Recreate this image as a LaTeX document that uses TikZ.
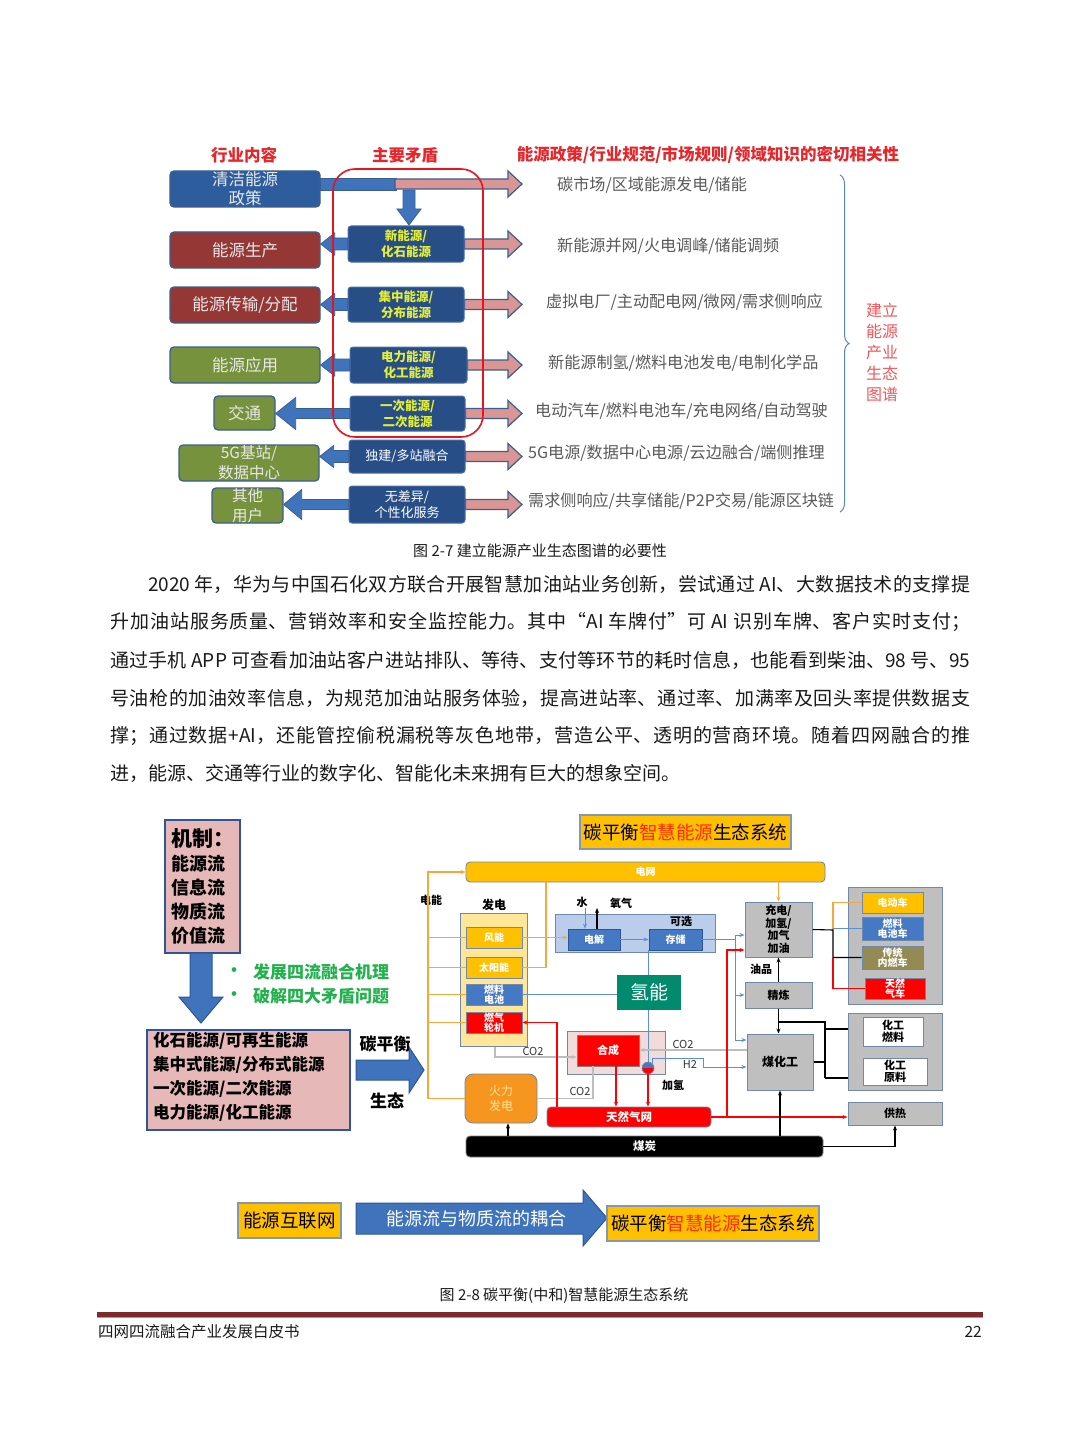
\documentclass[tikz,border=0pt]{standalone}
\usepackage{fontspec}
\setmainfont{Noto Sans CJK SC}
\usetikzlibrary{calc,arrows.meta,decorations.pathreplacing}
\XeTeXlinebreaklocale "zh"
\XeTeXlinebreakskip=0pt plus 3pt
\newcommand\fsz[2]{\fontsize{#1pt}{#2pt}\selectfont}
\newcommand\jline[2]{\parbox{#1}{\parfillskip=0pt\relax #2}}
\newcommand\BX[7]{\node[#2, minimum width={(#5-#3)*1pt}, minimum height={(#6-#4)*1pt}, inner sep=0pt] (#1) at ({(#3+#5)/2},{(#4+#6)/2}) {#7};}
\newcommand\LArr[6]{\draw[#6] let \p1=(#1), \p2=(#2) in (\x1,\y1+#3) -- (\x2+#5,\y1+#3) -- (\x2+#5,\y1+#4) -- (\x2,\y1) -- (\x2+#5,\y1-#4) -- (\x2+#5,\y1-#3) -- (\x1,\y1-#3) -- cycle;}
\newcommand\RArr[6]{\draw[#6] let \p1=(#1), \p2=(#2) in (\x1,\y1+#3) -- (\x2-#5,\y1+#3) -- (\x2-#5,\y1+#4) -- (\x2,\y1) -- (\x2-#5,\y1-#4) -- (\x2-#5,\y1-#3) -- (\x1,\y1-#3) -- cycle;}
\pgfdeclarelayer{bgzero}\pgfdeclarelayer{back}\pgfsetlayers{bgzero,back,main}
\definecolor{cblue}{HTML}{2E5D9E}
\definecolor{cred}{HTML}{953735}
\definecolor{cgreen}{HTML}{76923C}
\definecolor{cnavy}{HTML}{284E88}
\definecolor{cmidb}{HTML}{4A6FA8}
\definecolor{cyel}{HTML}{E2EE3A}
\definecolor{cpink}{HTML}{D99694}
\definecolor{carrow}{HTML}{3F74BC}
\definecolor{cborder}{HTML}{3A5F8F}
\definecolor{cgtext}{HTML}{595959}
\definecolor{chead}{HTML}{E5262B}
\definecolor{cbrace}{HTML}{5B87C5}
\definecolor{cvert}{HTML}{F0575A}
\definecolor{ltext}{HTML}{E8E8E8}
\definecolor{bpink}{HTML}{E6B9B8}
\definecolor{bborder}{HTML}{2F5597}
\definecolor{bgreen}{HTML}{22B14C}
\definecolor{byel}{HTML}{FFC000}
\definecolor{bred}{HTML}{FF0000}
\definecolor{borange}{HTML}{F5A93C}
\definecolor{blblue}{HTML}{BACDEA}
\definecolor{bbox}{HTML}{4679C4}
\definecolor{bteal}{HTML}{008B6C}
\definecolor{bgrey}{HTML}{BFBFBF}
\definecolor{bolive}{HTML}{948A54}
\definecolor{bpale}{HTML}{FFE699}
\definecolor{bpinkl}{HTML}{F2DCDB}
\definecolor{bblu}{HTML}{5C8FD8}
\definecolor{bgreyl}{HTML}{BDBDBD}
\definecolor{bfire}{HTML}{F7961E}
\definecolor{sbord}{HTML}{7088AA}
\definecolor{footred}{HTML}{7E2A2A}
\definecolor{ttext}{HTML}{1A1A1A}
\definecolor{sred}{HTML}{E8141B}
\definecolor{titred}{HTML}{FF2A00}
\definecolor{tpt}{HTML}{FFE39A}
\definecolor{tbord}{HTML}{8497B0}
\tikzset{
 hdr/.style={text=chead, font=\fsz{16.5}{18}\bfseries, inner sep=0pt},
 lbox/.style={rounded corners=4pt, draw=cborder, line width=1.3pt, text=ltext, align=center, font=\fsz{16.5}{19}},
 mbox/.style={rounded corners=3pt, draw=cmidb, line width=1pt, fill=cnavy, text=cyel, align=center, font=\fsz{12.5}{16}\bfseries},
 barrow/.style={fill=carrow, draw=cborder, line width=0.8pt},
 parrow/.style={fill=cpink, draw=cborder, line width=1.2pt},
 rtext/.style={anchor=west, inner sep=0pt, text=cgtext, font=\fsz{16.1}{18}},
 ptext/.style={anchor=west, inner sep=0pt, text=ttext, font=\fsz{19}{22}},
 captxt/.style={inner sep=0pt, text=ttext, font=\fsz{15}{17}},
 tbox/.style={fill=byel, draw=tbord, line width=1.5pt, text=black, font=\fsz{18.5}{20}},
 pbox/.style={fill=bpink, draw=bborder, line width=1.5pt, text=black},
 barrowb/.style={fill=carrow, draw=bborder, line width=1pt},
 bul/.style={text=bgreen, font=\fsz{17}{18}\bfseries, inner sep=0pt},
 sbox/.style={draw=sbord, line width=0.9pt, text=white, align=center, font=\fsz{10}{10.5}\bfseries},
 gbox/.style={fill=bgrey, draw=sbord, line width=1pt, text=black, align=center, font=\fsz{11}{12.5}\bfseries},
 grp/.style={draw=sbord, line width=1pt},
 lab/.style={inner sep=0pt, text=black, font=\fsz{11}{12}\bfseries},
 clab/.style={inner sep=0pt, text=black!80, font=\fsz{11}{12}},
 oline/.style={draw=borange, line width=1.1pt},
 bline/.style={draw=bblu, line width=1pt},
 kline/.style={draw=black, line width=1.1pt},
 rline/.style={draw=bred, line width=1.1pt},
 gline/.style={draw=bgreyl, line width=1.1pt},
 tip/.style={-{Stealth[length=5pt,width=4pt]}}
}
\begin{document}
\begin{tikzpicture}[x=1pt,y=-1pt]
\begin{pgfonlayer}{bgzero}
\useasboundingbox[fill=white] (0,0) rectangle (1080,1455);
\end{pgfonlayer}

% ================= Figure 2-7 =================
\node[hdr] (h1) at (244,155) {行业内容};
\node[hdr] (h2) at (405,155) {主要矛盾};
\node[hdr] (h3) at (708,155) {能源政策/行业规范/市场规则/领域知识的密切相关性};

\BX{L0}{lbox,fill=cblue}{170}{171}{320}{207}{清洁能源\\政策}
\BX{L1}{lbox,fill=cred}{170}{232}{320}{268}{能源生产}
\BX{L2}{lbox,fill=cred}{170}{287}{320}{323}{能源传输/分配}
\BX{L3}{lbox,fill=cgreen}{170}{347}{320}{383}{能源应用}
\BX{L4}{lbox,fill=cgreen}{214}{396}{275}{430}{交通}
\BX{L5}{lbox,fill=cgreen,font=\fsz{15.5}{20}}{179}{445}{319}{481}{5G基站/\\数据中心}
\BX{L6}{lbox,fill=cgreen,font=\fsz{15.5}{20}}{212}{488}{283}{523}{其他\\用户}

\BX{M1}{mbox}{348}{226}{464}{262}{新能源/\\化石能源}
\BX{M2}{mbox}{348}{287}{464}{322}{集中能源/\\分布能源}
\BX{M3}{mbox}{350}{347}{467}{383}{电力能源/\\化工能源}
\BX{M4}{mbox}{350}{396}{465}{431}{一次能源/\\二次能源}
\BX{M5}{mbox,text=white,font=\fsz{13}{15}}{349}{440}{465}{473}{独建/多站融合}
\BX{M6}{mbox,text=white,font=\fsz{13}{16}}{349}{486}{465}{523}{无差异/\\个性化服务}

\coordinate (P0) at (395,184);
\coordinate (R0) at (522,184);
\coordinate (R1) at (522,244);
\coordinate (R2) at (522,304.5);
\coordinate (R3) at (522,365);
\coordinate (R4) at (522,413.5);
\coordinate (R5) at (522,456.5);
\coordinate (R6) at (522,504.5);

\begin{pgfonlayer}{back}
\draw[barrow] (320,178) rectangle (396,190);
\RArr{P0}{R0}{5pt}{13pt}{14pt}{parrow}
\draw[barrow] (403,190) -- (415,190) -- (415,209) -- (421,209) -- (409,225) -- (397,209) -- (403,209) -- cycle;
\RArr{M1.east}{R1}{5pt}{13pt}{14pt}{parrow}
\RArr{M2.east}{R2}{5pt}{13pt}{14pt}{parrow}
\RArr{M3.east}{R3}{5pt}{13pt}{14pt}{parrow}
\RArr{M4.east}{R4}{5pt}{13pt}{14pt}{parrow}
\RArr{M5.east}{R5}{5pt}{13pt}{14pt}{parrow}
\RArr{M6.east}{R6}{5pt}{13pt}{14pt}{parrow}
\LArr{M1.west}{L1.east}{6pt}{11pt}{14pt}{barrow}
\LArr{M2.west}{L2.east}{6pt}{11pt}{14pt}{barrow}
\LArr{M3.west}{L3.east}{6pt}{11pt}{14pt}{barrow}
\LArr{M4.west}{L4.east}{5pt}{16pt}{20pt}{barrow}
\LArr{M5.west}{L5.east}{6pt}{11pt}{14pt}{barrow}
\LArr{M6.west}{L6.east}{5pt}{15pt}{18pt}{barrow}
\end{pgfonlayer}

\draw[sred, line width=1.6pt, rounded corners=22pt] (333,169) rectangle (483,437);

\node[rtext] (T0) at (557,185) {碳市场/区域能源发电/储能};
\node[rtext] (T1) at (557,246) {新能源并网/火电调峰/储能调频};
\node[rtext] (T2) at (546,302) {虚拟电厂/主动配电网/微网/需求侧响应};
\node[rtext] (T3) at (548,363) {新能源制氢/燃料电池发电/电制化学品};
\node[rtext] (T4) at (535,411) {电动汽车/燃料电池车/充电网络/自动驾驶};
\node[rtext] (T5) at (528,453) {5G电源/数据中心电源/云边融合/端侧推理};
\node[rtext] (T6) at (528,501) {需求侧响应/共享储能/P2P交易/能源区块链};

\draw[cbrace, line width=1pt, decorate, decoration={brace, amplitude=9pt}] (840,175) -- (840,512);
\node[text=cvert, font=\fsz{16}{21}, align=center, inner sep=0pt] (VT) at (882,352) {建立\\能源\\产业\\生态\\图谱};

\node[captxt] (cap1) at (540,551) {图 2-7 建立能源产业生态图谱的必要性};

% ================= Paragraph =================
\node[ptext] (p1) at (148,584) {\jline{822pt}{2020 年，华为与中国石化双方联合开展智慧加油站业务创新，尝试通过 AI、大数据技术的支撑提}};
\node[ptext] (p2) at (110,622) {\jline{860pt}{升加油站服务质量、营销效率和安全监控能力。其中“AI 车牌付”可 AI 识别车牌、客户实时支付；}};
\node[ptext] (p3) at (110,660) {\jline{860pt}{通过手机 APP 可查看加油站客户进站排队、等待、支付等环节的耗时信息，也能看到柴油、98 号、95}};
\node[ptext] (p4) at (110,698) {\jline{860pt}{号油枪的加油效率信息，为规范加油站服务体验，提高进站率、通过率、加满率及回头率提供数据支}};
\node[ptext] (p5) at (110,736) {\jline{860pt}{撑；通过数据+AI，还能管控偷税漏税等灰色地带，营造公平、透明的营商环境。随着四网融合的推}};
\node[ptext] (p6) at (110,773) {进，能源、交通等行业的数字化、智能化未来拥有巨大的想象空间。};

% ================= Figure 2-8 left part =================
\BX{MJ}{pbox,align=left,font=\fsz{18}{24}\bfseries}{165}{820}{240}{953}{{\fsz{21}{24}\bfseries 机制：}\\能源流\\信息流\\物质流\\价值流}
\draw[barrowb] (190,953) -- (212,953) -- (212,997) -- (223,997) -- (201,1023) -- (179,997) -- (190,997) -- cycle;
\node[bul] (bu1) at (234,972) {•};
\node[bul,anchor=west] (B1) at (253,972) {发展四流融合机理};
\node[bul] (bu2) at (234,996) {•};
\node[bul,anchor=west] (B2) at (253,996) {破解四大矛盾问题};
\BX{FS}{pbox}{147}{1030}{350}{1130}{}
\node[anchor=west, align=left, font=\fsz{16.5}{24}\bfseries, inner sep=0pt, text=black] (FT) at (153,1077) {化石能源/可再生能源\\集中式能源/分布式能源\\一次能源/二次能源\\电力能源/化工能源};
\draw[barrowb] (356,1060) -- (409,1060) -- (409,1047) -- (424,1070) -- (409,1093) -- (409,1080) -- (356,1080) -- cycle;
\node[inner sep=0pt, font=\fsz{17}{18}\bfseries] (tph) at (385,1044) {碳平衡};
\node[inner sep=0pt, font=\fsz{17}{18}\bfseries] (sta) at (387,1101) {生态};

\BX{TT}{tbox}{580}{815}{791}{849}{碳平衡\textcolor{titred}{智慧能源}生态系统}

% ================= Figure 2-8 system diagram =================
\BX{G}{sbox,fill=byel,rounded corners=4pt}{466}{862}{825}{882}{电网}
\BX{F}{grp,fill=bpale}{460}{913}{527}{1046}{}
\BX{W}{sbox,fill=byel}{466}{927}{522}{948}{风能}
\BX{S}{sbox,fill=byel}{466}{957}{522}{978}{太阳能}
\BX{FC}{sbox,fill=bbox}{466}{984}{522}{1005}{燃料\\电池}
\BX{GT}{sbox,fill=bred}{466}{1012}{522}{1033}{燃气\\轮机}
\BX{Opt}{grp,fill=blblue}{555}{914}{715}{952}{}
\BX{E}{sbox,fill=bbox,draw=bborder}{568}{929}{620}{950}{电解}
\BX{St}{sbox,fill=bbox,draw=bborder}{649}{929}{702}{950}{存储}
\BX{H}{fill=bteal,text=white,font=\fsz{19}{20}}{617}{975}{681}{1010}{氢能}
\BX{Syn}{grp,fill=bpinkl}{567}{1031}{665}{1074}{}
\BX{SY}{sbox,fill=bred,draw=gray,font=\fsz{11}{12}\bfseries}{577}{1035}{639}{1066}{合成}
\node[circle, minimum size=12pt, inner sep=0pt] (C) at (648,1068) {};
\fill[bbox] ($(C.center)+(-6,0)$) arc[start angle=180, end angle=0, radius=6pt] -- cycle;
\fill[bred] ($(C.center)+(-6,0)$) arc[start angle=180, end angle=360, radius=6pt] -- cycle;
\draw[sbord, line width=0.6pt] (C.center) circle (6pt);
\BX{TP}{sbox,fill=bfire,rounded corners=8pt,text=tpt,font=\fsz{12}{15}}{465}{1074}{537}{1123}{火力\\发电}
\BX{NG}{sbox,fill=bred,rounded corners=4pt,font=\fsz{11.5}{13}\bfseries}{547}{1107}{711}{1127}{天然气网}
\BX{CO}{sbox,fill=black,draw=gray,rounded corners=4pt,font=\fsz{11.5}{13}\bfseries}{466}{1136}{823}{1157}{煤炭}
\BX{CH}{gbox}{745}{902}{812}{957}{充电/\\加氢/\\加气\\加油}
\BX{RF}{gbox}{745}{982}{812}{1008}{精炼}
\BX{CC}{gbox,font=\fsz{12}{14}\bfseries}{747}{1034}{813}{1090}{煤化工}
\BX{VG}{grp,fill=bgrey}{848}{887}{942}{1004}{}
\BX{EV}{sbox,fill=byel}{862}{892}{923}{913}{电动车}
\BX{FCV}{sbox,fill=bbox}{862}{917}{923}{940}{燃料\\电池车}
\BX{ICE}{sbox,fill=bolive}{862}{946}{923}{969}{传统\\内燃车}
\BX{NGV}{sbox,fill=bred}{865}{978}{925}{999}{天然\\气车}
\BX{CG}{grp,fill=bgrey}{848}{1013}{942}{1090}{}
\BX{CF}{gbox,fill=white}{863}{1017}{923}{1046}{化工\\燃料}
\BX{CM}{gbox,fill=white}{863}{1058}{927}{1085}{化工\\原料}
\BX{HS}{gbox}{848}{1102}{942}{1125}{供热}

\node[lab] (t1) at (431,900) {电能};
\node[lab,font=\fsz{12}{13}\bfseries] (t2) at (494,905) {发电};
\node[lab] (t3) at (582,902) {水};
\node[lab] (t4) at (621,903) {氧气};
\node[lab] (t5) at (681,921) {可选};
\node[lab] (t6) at (761,969) {油品};
\node[clab] (t7) at (533,1051) {CO2};
\node[clab] (t8) at (580,1091) {CO2};
\node[clab] (t9) at (683,1044) {CO2};
\node[clab] (t10) at (690,1064) {H2};
\node[lab] (t11) at (673,1085) {加氢};

% orange
\coordinate (ov) at (428,872);
\draw[oline,tip] (TP.west) -| (ov) -- (G.west);
\foreach \n in {W,S,FC,GT} \draw[oline] (\n.west) -- (\n.west -| ov);
\draw[oline,tip] (W.east) -- (W.east -| E.west);
\coordinate (sg) at (546,882);
\draw[oline] (S.east) -| (sg);
\draw[oline,tip] (CH.north |- G.south) -- (CH.north);
% vehicles
\coordinate (J) at (833,930);
\draw[oline] (J) |- (EV.west);
\draw[bline] (J |- FCV.west) -- (FCV.west);
\draw[rline] (J |- ICE.west) |- (NGV.west);
\draw[kline] (CH.east) -- (J) |- (ICE.west);
% water / oxygen / hydrogen
\coordinate (wa) at (585,908);
\draw[bline,tip] (wa) -- (wa |- E.north);
\coordinate (ox) at (597,908);
\draw[kline,tip] (ox |- E.north) -- (ox);
\draw[bline,tip] (E.east) -- (St.west);
\coordinate (hb) at (648,950);
\draw[bline] (St.south -| hb) -- (H.north -| hb);
\draw[bline] (H.south -| hb) -- (C.north);
\draw[bline] (FC.east) -- (FC.east -| H.west);
\coordinate (b0) at (735,935);
\coordinate (b1) at (735,1040);
\draw[bline,tip] (St.east) -| (b0) -- (b0 -| CH.west);
\draw[bline] (b0) -- (b1);
\draw[bline,tip] (b0 |- RF.west) -- (RF.west);
\draw[bline,tip] (b1) -- (b1 -| CC.west);
\coordinate (h2a) at (703,1058);
\coordinate (h2b) at (703,1067);
\draw[bline,tip] (C.north east) |- (h2a) -- (h2b) -- (h2b -| CC.west);
% grey CO2
\coordinate (g1) at (495,1057);
\draw[gline,tip] (g1 |- F.south) -- (g1) -- (g1 -| SY.west);
\coordinate (g3) at (593,1066);
\draw[gline] (TP.east) -| (g3);
\coordinate (g4) at (700,1050);
\draw[gline,tip] (g4 -| CC.west) -- (g4 -| SY.east);
% red
\coordinate (r1) at (616,1066);
\draw[rline,tip] (r1) -- (r1 |- NG.north);
\draw[rline,tip] (C.south) -- (C.south |- NG.north);
\coordinate (r2) at (557,1107);
\draw[rline,tip] (r2) |- (GT.east);
\draw[rline,tip] (NG.east) -- (NG.east -| HS.west);
\coordinate (r3) at (727,1117);
\coordinate (r4) at (727,950);
\draw[rline,tip] (r3) -- (r4) -- (r4 -| CH.west);
% black
\draw[kline,tip] (RF.north) -- (RF.north |- CH.south);
\draw[kline,tip] (RF.south) -- (RF.south |- CC.north);
\coordinate (k1) at (825,1022);
\coordinate (k2) at (825,1029);
\coordinate (k3) at (825,1078);
\coordinate (k4) at (825,1062);
\draw[kline] (RF.south |- k1) -- (k1) -- (k3);
\draw[kline] (k2) -- (k2 -| CG.west);
\draw[kline] (k3) -- (k3 -| CG.west);
\draw[kline] (k4 -| CC.east) -- (k4);
\draw[kline,tip] (CC.south |- CO.north) -- (CC.south);
\draw[kline,tip] ([xshift=7pt]TP.south |- CO.north) -- ([xshift=7pt]TP.south);
\draw[kline,tip] (CO.east) -| (HS.south);

% ================= bottom row =================
\BX{EI}{tbox}{238}{1203}{341}{1238}{能源互联网}
\draw[barrowb] (356,1203) -- (583,1203) -- (583,1190) -- (607,1218) -- (583,1246) -- (583,1234) -- (356,1234) -- cycle;
\node[inner sep=0pt, text=white, font=\fsz{18}{20}] (AR) at (476,1219) {能源流与物质流的耦合};
\BX{ES}{tbox}{607}{1206}{819}{1241}{碳平衡\textcolor{titred}{智慧能源}生态系统}

\node[captxt] (cap2) at (564,1296) {图 2-8 碳平衡(中和)智慧能源生态系统};

% ================= footer =================
\fill[footred] (97,1312) rectangle (983,1316.5);
\fill[footred!50] (97,1317.2) rectangle (983,1318.4);
\node[anchor=west, inner sep=0pt, text=ttext, font=\fsz{15.5}{17}] (ft1) at (98,1332) {四网四流融合产业发展白皮书};
\node[anchor=east, inner sep=0pt, text=ttext, font=\fsz{15.5}{17}] (ft2) at (982,1332) {22};
\end{tikzpicture}
\end{document}
